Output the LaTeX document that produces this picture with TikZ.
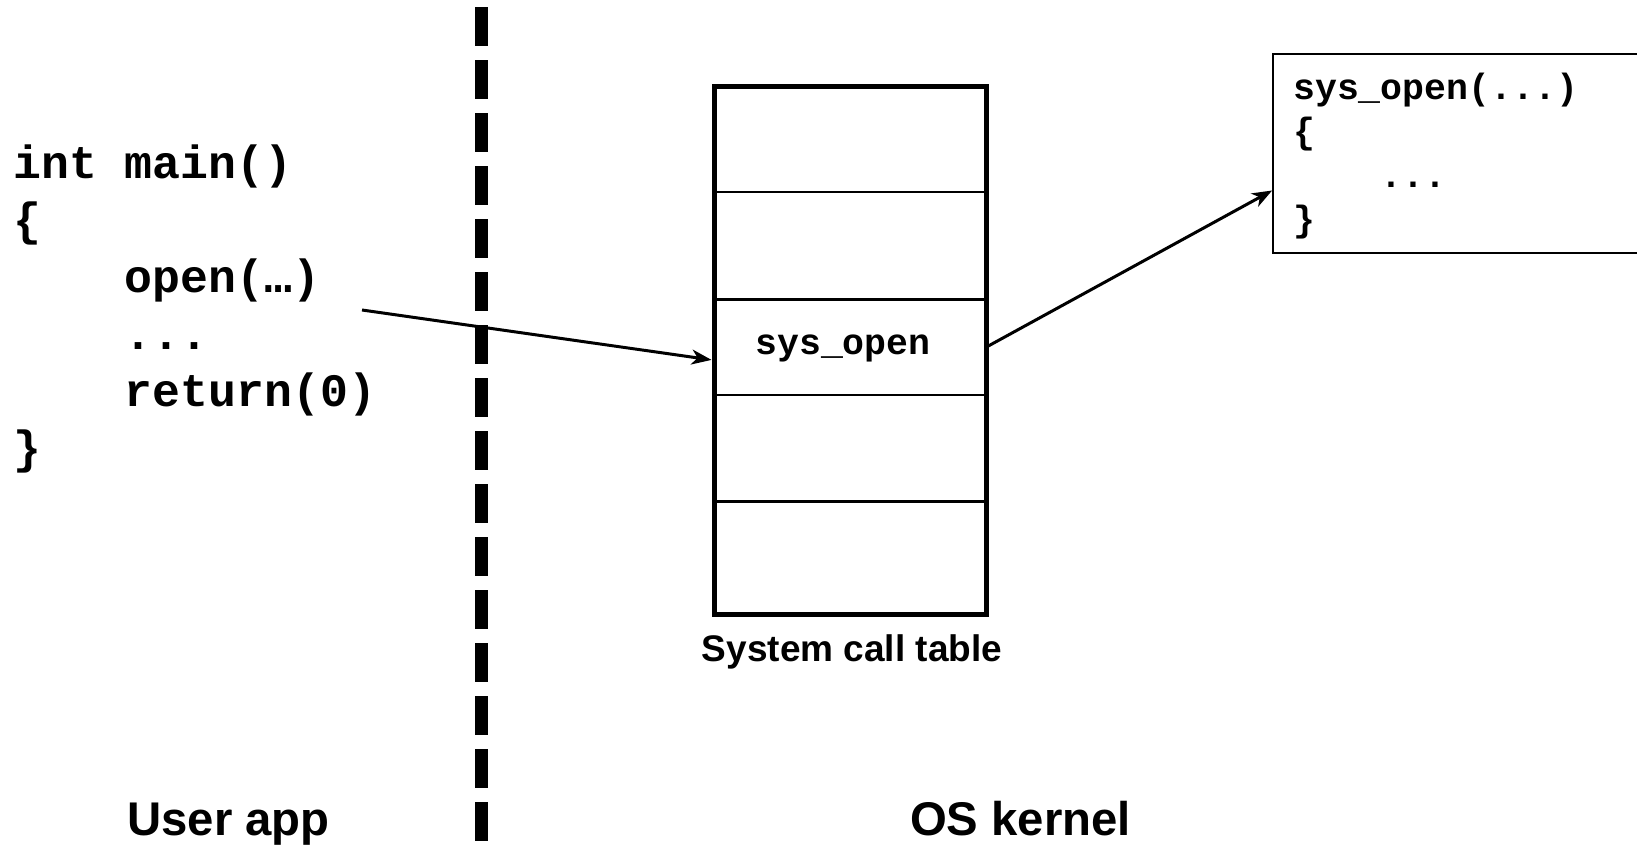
\documentclass[tikz,border=0pt]{standalone}
\usepackage{fontspec}
\setmainfont{Liberation Sans}
\setmonofont{Liberation Mono}
\usetikzlibrary{arrows.meta}

\begin{document}
\begin{tikzpicture}[x=1pt,y=-1pt,
  codeline/.style={anchor=base west, inner sep=0pt,
    font=\fontsize{46.5}{57}\selectfont\ttfamily\bfseries},
  fnline/.style={anchor=base west, inner sep=0pt,
    font=\fontsize{36.5}{44}\selectfont\ttfamily\bfseries},
  sidelabel/.style={anchor=base, inner sep=0pt,
    font=\fontsize{47.3}{56}\selectfont\bfseries},
  caption/.style={anchor=base, inner sep=0pt,
    font=\fontsize{37}{44}\selectfont\bfseries},
  rowcell/.style={draw, line width=2.5pt, minimum width=272pt,
    inner sep=0pt, outer sep=0pt, anchor=north west},
  link/.style={line width=3pt, -{Stealth[length=20pt,width=15pt,inset=6pt]}},
  divider/.style={line width=13pt, dash pattern=on 39pt off 14pt},
]
\useasboundingbox (0,0) rectangle (1637,847);
\clip (0,0) rectangle (1637,847);

% user-space program
\node[codeline] (l1) at (13,178) {int main()};
\node[codeline] (l2) at (13,235) {\{};
\node[codeline] (l3) at (13,292) {\hphantom{open}open(…)};
\node[codeline] (l4) at (13,349) {\hphantom{open}...};
\node[codeline] (l5) at (13,406) {\hphantom{open}return(0)};
\node[codeline] (l6) at (13,463) {\}};
\coordinate (callsite) at (362,310);

% system call table
\node[rowcell, minimum height=105.4pt] (r1) at (714,86.6) {};
\node[rowcell, minimum height=107.5pt] (r2) at (714,192) {};
\node[rowcell, minimum height=95.5pt]  (r3) at (714,299.5) {};
\node[rowcell, minimum height=106.5pt] (r4) at (714,395) {};
\node[rowcell, minimum height=112.5pt] (r5) at (714,501.5) {};
\draw[line width=5pt] (r1.north west) rectangle (r5.south east);
\node[fnline, anchor=base] (entry) at (843,354) {sys\_open};
\node[caption] (tcap) at (852,661) {System call table};

% kernel handler
\node[draw, line width=2.5pt, outer sep=0pt, inner sep=0pt, anchor=north west,
      minimum width=400pt, minimum height=199pt] (fn) at (1273,54) {};
\node[fnline] (f1) at (1293,99)  {sys\_open(...)};
\node[fnline] (f2) at (1293,143) {\{};
\node[fnline] (f3) at (1293,187) {\hphantom{open}...};
\node[fnline] (f4) at (1293,231) {\}};

% connectors
\draw[link, shorten >=2.5pt] (callsite) -- ([yshift=-13pt]r3.west);
\draw[link, shorten <=2.5pt, shorten >=1pt] (r3.east) -- ([yshift=-36.5pt]fn.west);

% user / kernel boundary
\coordinate (sepTop) at (481.5,7);
\coordinate (sepBot) at (481.5,847);
\draw[divider] (sepTop) -- (sepBot);

\node[sidelabel] (ulabel) at (228.5,835) {User app};
\node[sidelabel] (klabel) at (1020.5,835) {OS kernel};
\end{tikzpicture}
\end{document}
